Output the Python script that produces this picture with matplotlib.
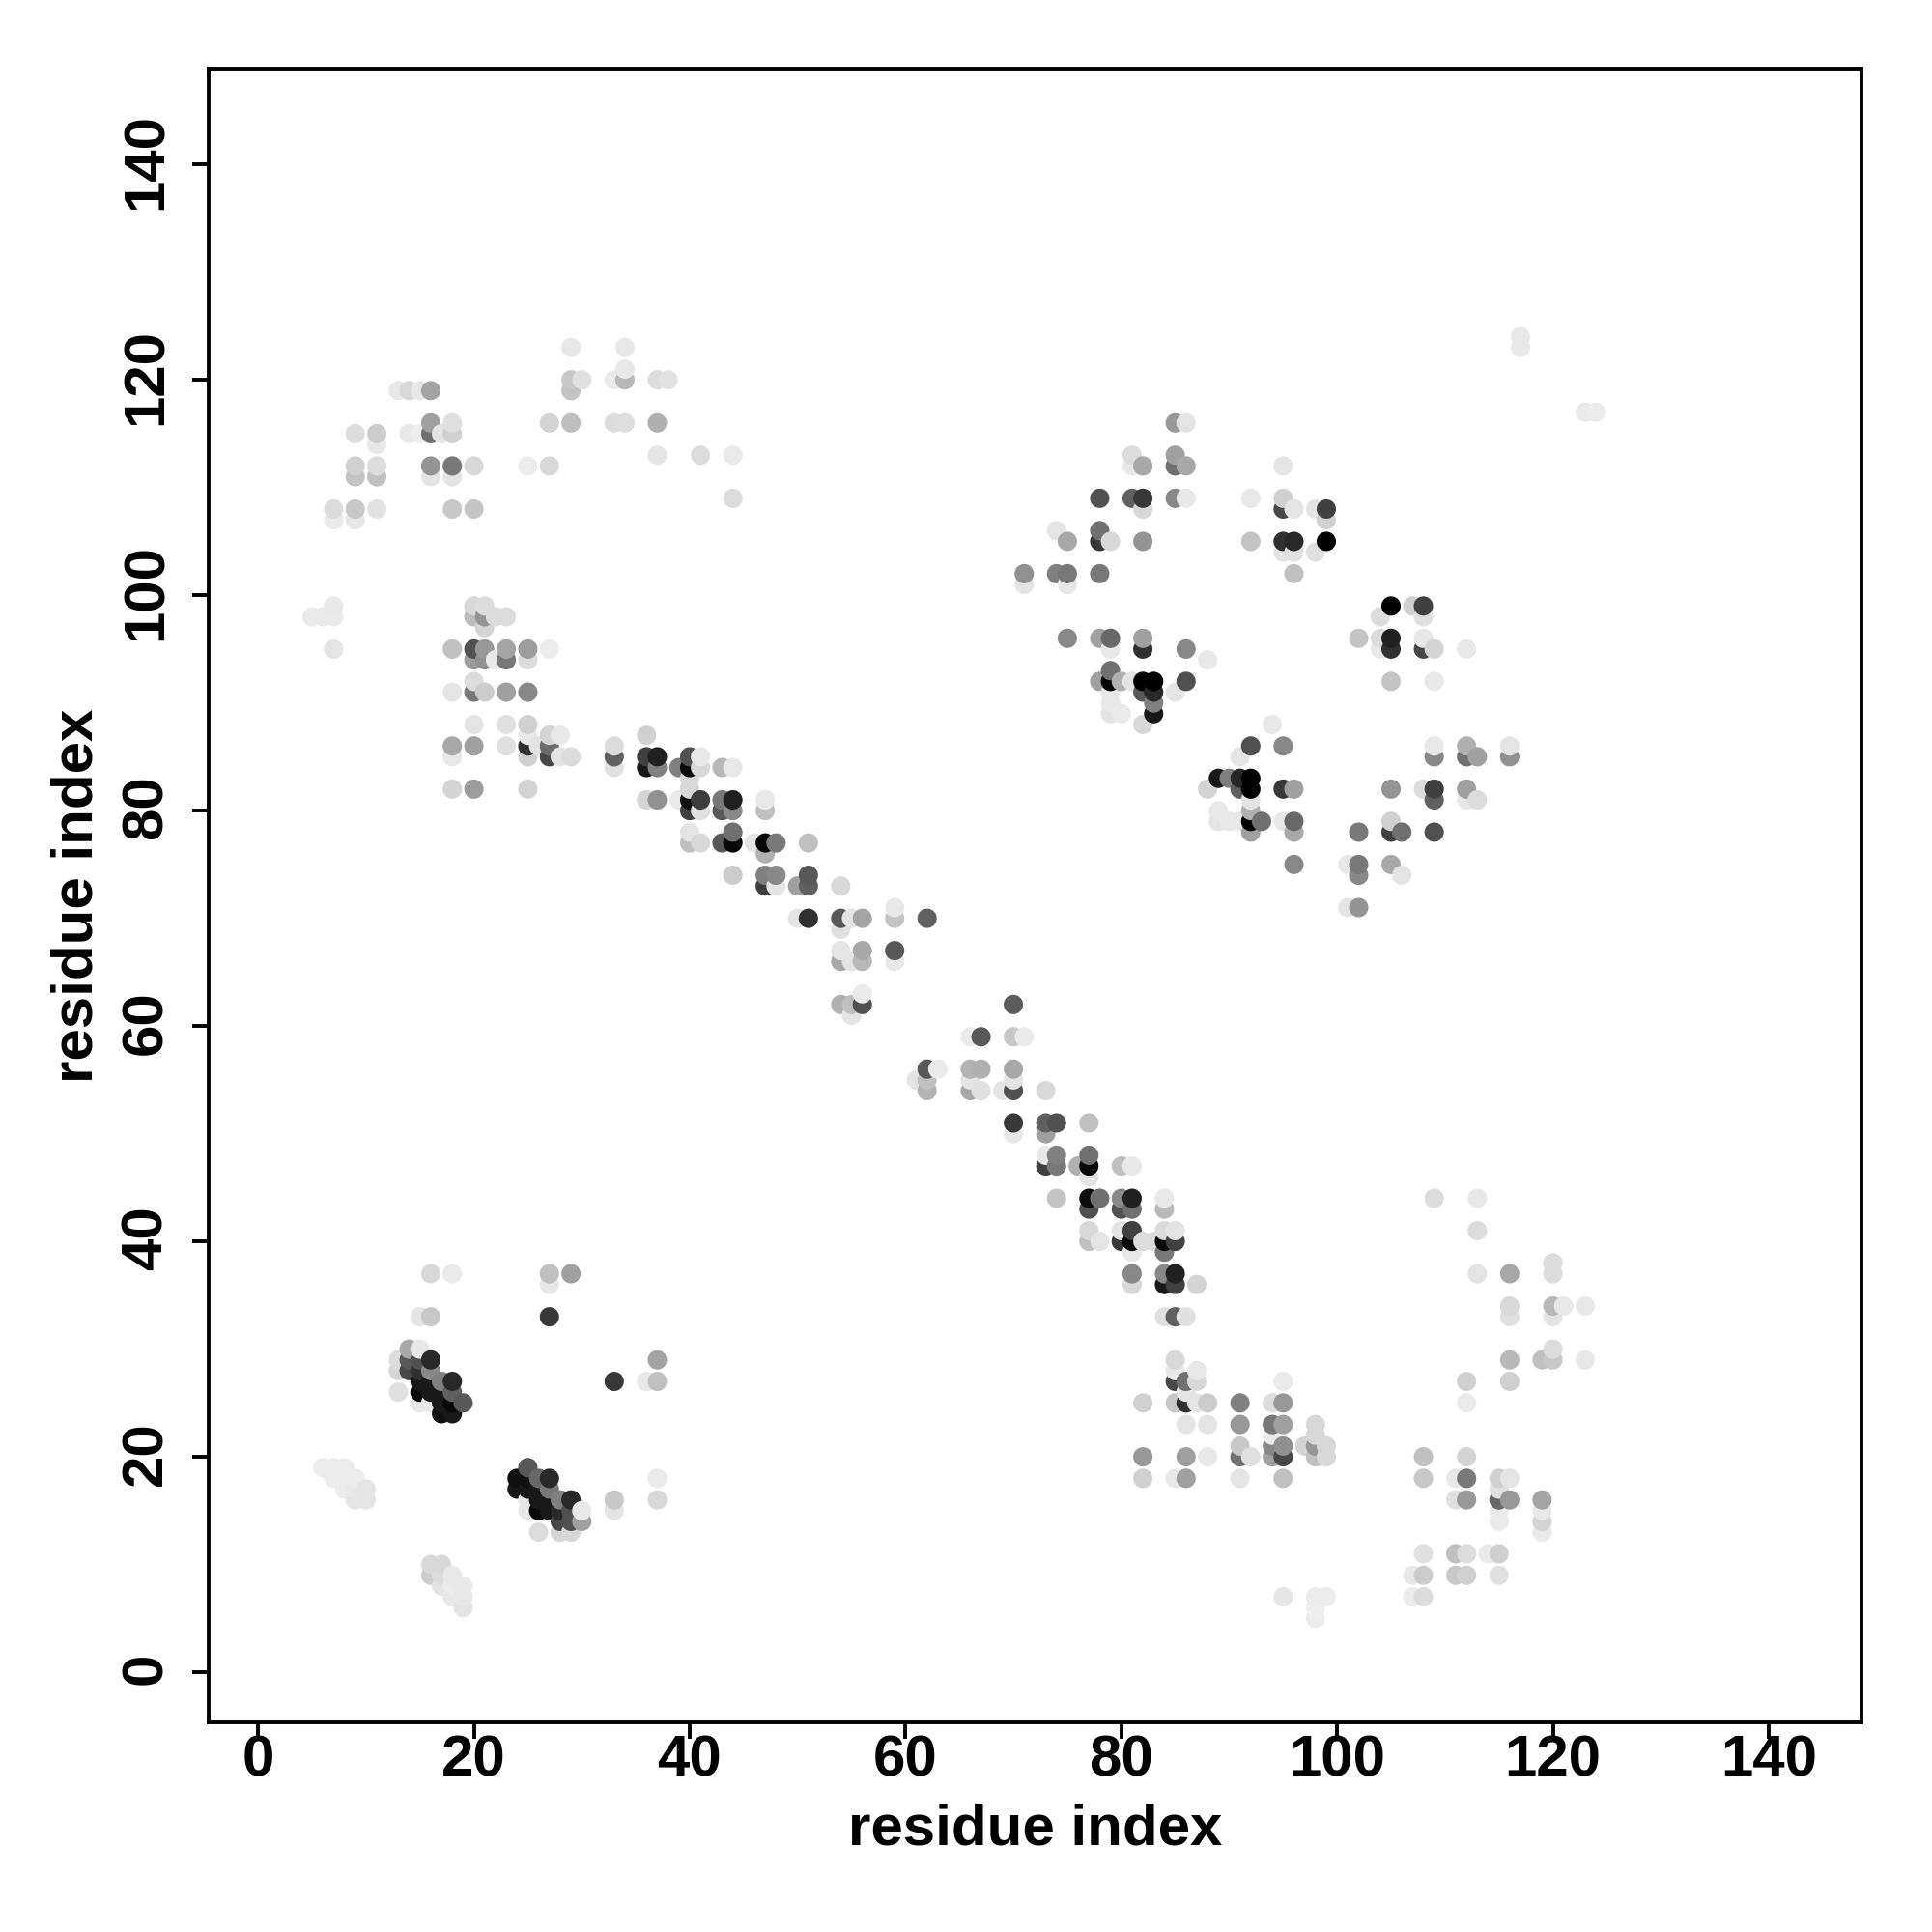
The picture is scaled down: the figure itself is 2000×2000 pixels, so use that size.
import matplotlib
matplotlib.use("Agg")
import matplotlib.pyplot as plt
from matplotlib.transforms import ScaledTranslation

# (residue x, residue y, grey level 0-255)
upper_left = [
(29,123,0xe8),(34,123,0xe8),(29,120,0xc8),(30,120,0xe0),(29,119,0xc4),(33,120,0xea),(34,120,0xb8),(34,121,0xe8),
(37,120,0xdd),(38,120,0xe2),(13,119,0xe8),(14,119,0xd8),(15,119,0xe8),(16,119,0xa4),(16,116,0xa0),(18,116,0xe0),
(16,115,0x70),(17,115,0xe4),(18,115,0xd0),(9,115,0xdd),(11,115,0xcc),(11,114,0xe8),(14,115,0xe8),(15,115,0xee),
(27,116,0xd4),(29,116,0xbf),(33,116,0xdd),(34,116,0xde),(37,116,0xb0),(37,113,0xe6),(41,113,0xdc),(44,113,0xea),
(9,112,0xd0),(11,112,0xdd),(16,112,0x94),(18,112,0x78),(20,112,0xd8),(25,112,0xec),(27,112,0xd8),
(9,111,0xc4),(11,111,0xc0),(16,111,0xe4),(18,111,0xe4),(7,108,0xdc),(9,108,0xc8),(11,108,0xe2),(18,108,0xc8),
(20,108,0xc4),(7,107,0xea),(9,107,0xe6),(44,109,0xdc),
]
mid_left = [
(7,99,0xe8),(5,98,0xea),(6,98,0xea),(7,98,0xea),(7,95,0xe4),(20,99,0xd8),(21,99,0xdc),(20,98,0xbc),(21,98,0x94),
(22,98,0xdc),(23,98,0xdc),(21,97,0xd4),(18,95,0xc0),(20,95,0x50),(21,95,0x98),(23,95,0xa4),(25,95,0x9c),(27,95,0xec),
(20,94,0x9c),(21,94,0x90),(22,94,0xe8),(23,94,0x78),(25,94,0xdc),(20,92,0xdc),(18,91,0xe4),(20,91,0x78),(21,91,0xcc),
(23,91,0xa0),(25,91,0x88),(20,88,0xe4),(23,88,0xe0),(25,88,0xd0),(25,87,0xe8),(27,87,0xd4),(28,87,0xe8),
(18,86,0xa8),(20,86,0xa0),(23,86,0xe0),(25,86,0x30),(26,86,0xe4),(27,86,0x6c),(18,85,0xe8),(25,85,0xd0),(27,85,0x48),
(28,85,0xe4),(29,85,0xdc),(18,82,0xd4),(20,82,0x9c),(25,82,0xd4),
]
diagonal_a = [
(33,86,0xdc),(33,85,0x60),(33,84,0xe0),(36,87,0xd0),(36,85,0x40),(37,85,0x20),(36,84,0x18),(37,84,0x80),(39,84,0x80),
(40,85,0x50),(41,85,0xe8),(40,84,0x08),(41,84,0xd8),(43,84,0xb8),(44,84,0xe8),(36,81,0xd4),(37,81,0x90),(39,81,0xea),
(40,83,0xd8),(40,82,0xd8),(40,81,0x10),(41,81,0x3c),(40,80,0x40),(41,80,0xe0),(43,81,0x78),(44,81,0x20),(43,80,0x58),
(44,80,0x88),(47,81,0xe8),(47,80,0xc0),(40,78,0xe4),(40,77,0xc0),(41,77,0xd8),(43,77,0x58),(44,78,0x70),(44,77,0x08),
(46,77,0xe4),(47,77,0x05),(48,77,0x78),(47,76,0xb0),(51,77,0xc0),(44,74,0xcc),(47,74,0x80),(48,74,0x88),(47,73,0x3c),
(48,73,0xe4),(51,74,0x58),(50,73,0xa0),(51,73,0x60),(54,73,0xd8),(50,70,0xe4),(51,70,0x30),(54,70,0x58),(55,70,0xe4),
(56,70,0xa4),(59,71,0xe8),(59,70,0xc4),(62,70,0x60),(54,69,0xe0),(54,67,0xe4),(56,67,0xa8),(59,67,0x58),(54,66,0xa8),
(55,66,0xe4),(56,66,0xb8),(59,66,0xe8),(56,63,0xea),(54,62,0xb0),(55,62,0xc0),(56,62,0x50),(55,61,0xe4),
]
diagonal_b = [
(70,62,0x5c),(66,59,0xea),(67,59,0x58),(70,59,0xc8),(71,59,0xea),(62,56,0x58),(63,56,0xea),(61,55,0xe4),(62,55,0xc0),
(62,54,0xb4),(66,56,0xb4),(67,56,0xb0),(66,55,0xe4),(66,54,0xa8),(67,54,0xe0),(70,56,0xa8),(70,55,0xe4),(69,54,0xe4),
(70,54,0x50),(73,54,0xd8),(70,51,0x38),(70,50,0xe8),(73,51,0x60),(74,51,0x50),(73,50,0xa0),(77,51,0xc0),(73,48,0xe8),
(74,48,0x80),(73,47,0x40),(74,47,0x78),(76,47,0xb0),(77,48,0x70),(77,47,0x08),(77,46,0xe4),(80,47,0xc0),(81,47,0xe8),
(74,44,0xc4),(77,44,0x0c),(78,44,0x70),(77,43,0x50),(80,44,0x88),(81,44,0x20),(80,43,0x50),(81,43,0x70),(84,44,0xe8),
(84,43,0xb8),(77,41,0xd8),(77,40,0xc0),(78,40,0xe4),(80,41,0xe4),(81,41,0x40),(80,40,0x38),(81,40,0x08),(81,39,0xe8),
(82,40,0xdc),(83,40,0xdc),(84,41,0xdc),(85,41,0xe4),(84,40,0x08),(85,40,0x40),(84,39,0x78),(81,37,0x88),(81,36,0xd8),
(84,37,0x88),(85,37,0x20),(84,36,0x18),(85,36,0x40),(87,36,0xd4),(84,33,0xe0),(85,33,0x60),(86,33,0xe0),
]
lower_mid = [
(85,29,0xd8),(85,28,0xe8),(87,28,0xe8),(85,27,0x48),(86,27,0x70),(87,27,0xd8),(82,25,0xd0),(85,25,0xc8),(86,25,0x30),
(86,26,0xe4),(87,25,0xe4),(88,25,0xcc),(91,25,0x80),(94,25,0xdc),(95,25,0x98),(95,27,0xea),(86,23,0xe4),(88,23,0xe4),
(91,23,0x98),(94,23,0x78),(95,23,0xa0),(94,22,0xea),(91,21,0xc8),(94,21,0x88),(95,21,0x90),(97,21,0xd4),(98,23,0xd8),
(98,22,0xd8),(98,21,0x98),(99,21,0xd8),(82,20,0x98),(86,20,0xa0),(88,20,0xe8),(91,20,0x70),(92,20,0xe0),(94,20,0xa0),
(95,20,0x48),(98,20,0xc0),(99,20,0xd8),(82,18,0xd0),(85,18,0xe8),(86,18,0xa0),(91,18,0xe4),(95,18,0xc0),
(95,7,0xe6),(98,7,0xec),(99,7,0xec),(98,6,0xee),(98,5,0xec),
]
lower_right = [
(109,44,0xdc),(113,44,0xe8),(113,41,0xdc),(113,37,0xe4),(116,37,0xa8),(120,38,0xdc),(120,37,0xdc),(116,34,0xd8),
(116,33,0xe0),(120,34,0xb8),(121,34,0xe8),(123,34,0xe8),(120,33,0xe4),(120,30,0xdc),(119,29,0xc0),(120,29,0xc8),
(123,29,0xe8),(116,29,0xb8),(112,27,0xd0),(116,27,0xd0),(112,25,0xea),(108,20,0xc0),(112,20,0xd4),(108,18,0xc8),
(111,18,0xe8),(112,18,0x78),(115,18,0xd0),(116,18,0xe4),(115,17,0xe0),(111,16,0xe0),(112,16,0x98),(115,16,0x68),
(116,16,0x98),(119,16,0xa4),(115,15,0xea),(115,14,0xea),(119,15,0xe8),(119,14,0xd4),(119,13,0xea),(108,11,0xe0),
(111,11,0xc0),(112,11,0xdc),(114,11,0xea),(115,11,0xd0),(107,9,0xe8),(108,9,0xcc),(111,9,0xc8),(112,9,0xd0),
(115,9,0xe0),(107,7,0xec),(108,7,0xdc),
]
lower_left = [
(16,37,0xd8),(18,37,0xea),(27,37,0xc0),(29,37,0xa0),(27,36,0xe8),(15,33,0xe4),(16,33,0xc8),(27,33,0x38),(37,29,0xa4),
(33,27,0x38),(36,27,0xe8),(37,27,0xc0),(14,30,0xa8),(15,30,0xe8),(13,29,0xdc),(14,29,0x58),(15,29,0x50),(16,29,0x28),
(13,28,0xd4),(14,28,0x48),(15,28,0x30),(16,28,0x88),(15,27,0x18),(16,27,0x18),(17,27,0x80),(18,27,0x28),(13,26,0xe0),
(15,26,0x08),(16,26,0x18),(17,26,0x18),(18,26,0x60),(15,25,0xe8),(16,25,0xe8),(17,25,0x18),(18,25,0x08),(19,25,0x58),
(17,24,0x10),(18,24,0x18),(25,19,0x58),(24,18,0x10),(25,18,0x10),(26,18,0x68),(27,18,0x28),(24,17,0x18),(25,17,0x18),
(26,17,0x18),(27,17,0x78),(25,16,0xe8),(26,16,0x18),(27,16,0x18),(28,16,0x80),(29,16,0x28),(25,15,0xe8),(26,15,0x08),
(27,15,0x18),(28,15,0x28),(29,15,0x50),(30,15,0xe8),(28,14,0x48),(29,14,0x50),(30,14,0xa0),(26,13,0xdc),(28,13,0xd4),
(29,13,0xd8),(33,16,0xc8),(33,15,0xe4),(37,18,0xea),(37,16,0xd8),(16,10,0xd8),(17,10,0xd8),(16,9,0xcc),(17,9,0xdc),
(18,9,0xe8),(17,8,0xe4),(18,8,0xec),(19,8,0xe8),(18,7,0xe8),(19,7,0xe8),(19,6,0xe4),
(6,19,0xec),(7,19,0xec),(8,19,0xec),(7,18,0xec),(8,18,0xec),(9,18,0xec),(8,17,0xec),(9,17,0xe8),(10,17,0xe4),
(9,16,0xe4),(10,16,0xe4),
]
upper_right_a = [
(85,116,0x98),(86,116,0xe4),(81,113,0xdc),(81,112,0xe8),(82,112,0xa8),(85,113,0xa0),(85,112,0x70),(86,112,0xa8),
(95,112,0xe4),(78,109,0x50),(81,109,0x60),(82,109,0x38),(85,109,0x88),(86,109,0xe8),(82,108,0xd8),(92,109,0xe8),
(95,109,0xd0),(95,108,0x48),(96,108,0xe4),(98,108,0xe4),(99,108,0x40),(99,107,0xd0),(74,106,0xe4),(75,105,0xa8),
(78,106,0x70),(78,105,0x38),(79,105,0xd8),(82,105,0x94),(92,105,0xc4),(95,105,0x30),(96,105,0x28),(99,105,0x00),
(95,104,0xe4),(96,104,0xe0),(98,104,0xe0),(96,102,0xc0),(71,102,0x90),(74,102,0x80),(75,102,0x78),(78,102,0x78),
(71,101,0xe4),(75,101,0xe8),(75,96,0x88),(78,96,0xa0),(79,96,0x68),(82,96,0xa0),(82,95,0x30),(79,95,0xe8),(86,95,0x88),
(88,94,0xe8),(79,93,0x70),(78,92,0xa0),(79,92,0x00),(80,92,0xb0),(81,92,0xe4),(82,92,0x00),(83,92,0x00),(86,92,0x50),
(82,91,0x58),(83,91,0x28),(85,91,0xe4),(79,91,0xe8),(79,90,0xe8),(83,90,0x80),(79,89,0xe4),(80,89,0xea),(83,89,0x18),
(82,88,0xd8),
]
upper_right_b = [
(102,96,0xc4),(104,96,0xdc),(105,96,0x20),(104,98,0xdc),(105,99,0x00),(107,99,0xd0),(108,99,0x40),(108,98,0xe0),
(104,95,0xe8),(105,95,0x30),(108,96,0xe8),(108,95,0x48),(109,95,0xd4),(105,92,0xc4),(109,92,0xe8),(112,95,0xe8),
(94,88,0xe8),(92,86,0x50),(95,86,0x88),(91,85,0xe4),(88,82,0xd4),(89,83,0x18),(90,83,0x80),(91,83,0x28),(92,83,0x00),
(91,82,0x60),(92,82,0x00),(95,82,0x38),(96,82,0xa0),(92,81,0xe4),(89,80,0xe8),(92,80,0xb0),(89,79,0xe4),(90,79,0xe8),
(91,79,0xe8),(92,79,0x00),(93,79,0x70),(95,79,0xe8),(96,79,0x68),(92,78,0xa0),(96,78,0xa8),(96,75,0x88),
(109,86,0xe8),(109,85,0x88),(112,86,0xb0),(112,85,0x70),(113,85,0xa0),(116,86,0xe4),(116,85,0x90),(105,82,0x94),
(108,82,0xdc),(109,82,0x40),(109,81,0x60),(112,82,0xa0),(112,81,0xe8),(113,81,0xdc),(105,79,0xd0),(102,78,0x78),
(105,78,0x40),(106,78,0x70),(109,78,0x50),(101,75,0xe8),(102,75,0x78),(102,74,0x88),(105,75,0xa8),(106,74,0xe4),
(101,71,0xe4),(102,71,0x94),
]
far_corner = [(117,124,0xe8),(117,123,0xe8),(123,117,0xea),(124,117,0xec)]

tick_values = [0, 20, 40, 60, 80, 100, 120, 140]
axis_label = "residue index"

contacts = sorted(upper_left + mid_left + diagonal_a + diagonal_b + lower_mid + lower_right
                  + lower_left + upper_right_a + upper_right_b + far_corner,
                  key=lambda c: (c[0], c[1]))
xs = [c[0] for c in contacts]
ys = [c[1] for c in contacts]
greys = [(c[2] / 255,) * 3 for c in contacts]

plt.rcParams['font.family'] = ['Liberation Sans', 'DejaVu Sans']
fig = plt.figure(figsize=(10, 10), dpi=200)
ax = fig.add_axes([215.6 / 2000, 1 - 1783 / 2000, (1927 - 215.6) / 2000, (1783 - 71) / 2000])
ax.scatter(xs, ys, s=52, c=greys, linewidths=0, zorder=3, clip_on=True)
ax.set_xlim(-4.62, 148.6)
ax.set_ylim(-4.66, 148.9)
ax.set_xticks(tick_values)
ax.set_yticks(tick_values)
ax.set_xticklabels([str(t) for t in tick_values], fontsize=21.6, fontweight='bold')
ax.set_yticklabels([str(t) for t in tick_values], fontsize=21.6, fontweight='bold',
                   rotation=90, va='center')
ax.tick_params(axis='x', length=6, width=1.4, pad=-1.4)
ax.tick_params(axis='y', length=6, width=1.4, pad=7)
shift_up = ScaledTranslation(0, 3.5 / 200, fig.dpi_scale_trans)
for lab in ax.get_yticklabels():
    lab.set_transform(lab.get_transform() + shift_up)
for s in ax.spines.values():
    s.set_linewidth(1.4)
ax.set_xlabel(axis_label, fontsize=21.6, fontweight='bold', labelpad=5.8)
ax.set_ylabel(axis_label, fontsize=21.6, fontweight='bold', labelpad=6.2)
fig.savefig("out.png", dpi=200, facecolor='white')
